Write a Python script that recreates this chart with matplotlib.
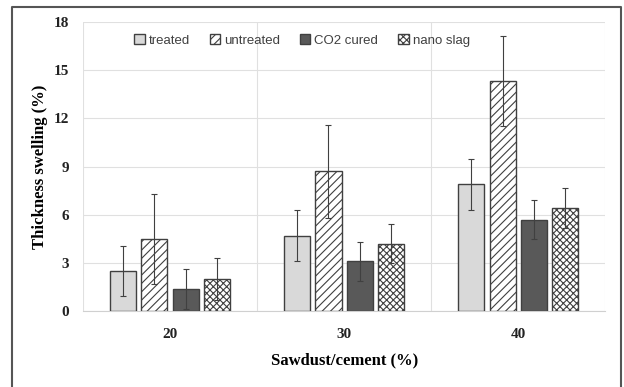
import numpy as np
import matplotlib.pyplot as plt
from matplotlib.lines import Line2D

categories = ["20", "30", "40"]
series = ["treated", "untreated", "CO2 cured", "nano slag"]
values = {
    "treated": [2.5, 4.7, 7.9],
    "untreated": [4.5, 8.7, 14.35],
    "CO2 cured": [1.4, 3.1, 5.7],
    "nano slag": [2.0, 4.2, 6.4],
}
errors = {
    "treated": [1.55, 1.6, 1.6],
    "untreated": [2.8, 2.9, 2.8],
    "CO2 cured": [1.25, 1.2, 1.2],
    "nano slag": [1.3, 1.2, 1.25],
}
yticks = [0, 3, 6, 9, 12, 15, 18]

plt.rcParams['hatch.color'] = '#6e6e6e'
plt.rcParams['hatch.linewidth'] = 0.8

fig = plt.figure(figsize=(6.24, 3.87), dpi=100)
ax = fig.add_axes([0.133, 0.196, 0.837, 0.747])

styles = {
    "treated": dict(color='#d9d9d9', hatch=None),
    "untreated": dict(color='white', hatch='////'),
    "CO2 cured": dict(color='#595959', hatch=None),
    "nano slag": dict(color='white', hatch='xxxxx'),
}

x = np.arange(len(categories))
width = 0.15
step = 0.18
for i, s in enumerate(series):
    pos = x + (i - 1.5) * step
    ax.bar(pos, values[s], width, color=styles[s]['color'], hatch=styles[s]['hatch'],
           edgecolor='#404040', linewidth=1.0, label=s, zorder=3)
    ax.errorbar(pos, values[s], yerr=errors[s], fmt='none', ecolor='#404040',
                elinewidth=0.8, capsize=2.5, capthick=0.8, zorder=4)

ax.set_xlim(-0.5, 2.5)
ax.set_ylim(0, 18)
ax.set_yticks(yticks)
ax.set_xticks(x)
ax.set_xticklabels(categories)
for v in [-0.5, 0.5, 1.5, 2.5]:
    ax.axvline(v, color='#e0e0e0', lw=0.8, zorder=0)
ax.yaxis.grid(True, color='#e0e0e0', lw=0.8, zorder=0)

for sp in ['left', 'right', 'top']:
    ax.spines[sp].set_visible(False)
ax.spines['bottom'].set_color('#d0d0d0')
ax.tick_params(axis='y', length=0, pad=10, labelsize=11)
ax.tick_params(axis='x', length=0, pad=12, labelsize=11)
for lab in ax.get_xticklabels() + ax.get_yticklabels():
    lab.set_fontfamily('Liberation Serif')
    lab.set_fontweight('bold')
    lab.set_color('#222222')

ax.set_xlabel("Sawdust/cement (%)", fontfamily='Liberation Serif', fontweight='bold',
              fontsize=12, labelpad=8)
ax.set_ylabel("Thickness swelling (%)", fontfamily='Liberation Serif', fontweight='bold',
              fontsize=12, labelpad=4)

leg = ax.legend(loc='upper left', bbox_to_anchor=(0.075, 1.0), ncol=4, frameon=False,
                prop={'family': 'Liberation Sans', 'size': 9.5}, handlelength=0.8,
                handleheight=0.8, handletextpad=0.3, columnspacing=1.5)
for t in leg.get_texts():
    t.set_color('#404040')

# outer frame: left, top, right (bottom runs off the image)
fx = [0.019, 0.019, 0.995, 0.995]
fy = [0.0, 0.982, 0.982, 0.0]
fig.add_artist(Line2D(fx, fy, transform=fig.transFigure, color='#555555', lw=1.5))

fig.savefig("out.png", dpi=100)
